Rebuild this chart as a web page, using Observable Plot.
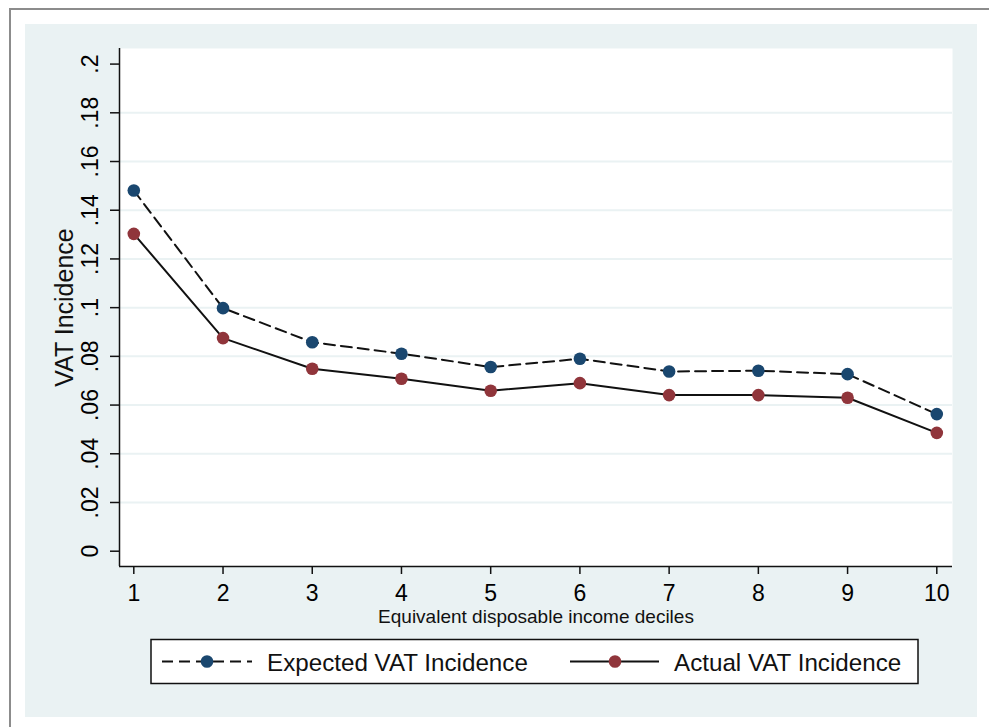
<!DOCTYPE html>
<html>
<head>
<meta charset="utf-8">
<script src="https://cdn.jsdelivr.net/npm/d3@7"></script>
<script src="https://cdn.jsdelivr.net/npm/@observablehq/plot@0.6"></script>
<style>
  html, body { margin: 0; padding: 0; background: #ffffff; }
  #page { position: relative; width: 989px; height: 727px; overflow: hidden; font-family: "Liberation Sans", Arial, sans-serif; }
  #frame { position: absolute; left: 9px; top: 8px; width: 1200px; height: 1000px; border-left: 2px solid #8c8c8c; border-top: 2px solid #8c8c8c; box-sizing: border-box; }
  #region { position: absolute; left: 25px; top: 24px; width: 952px; height: 693px; background: #eaf2f3; }
  #chart { position: absolute; left: 0; top: 0; }
  #legend { position: absolute; left: 0; top: 0; }
  #chart g[aria-label="y-axis tick label"], #chart g[aria-label="x-axis tick label"] { font-size: 23px; }
</style>
</head>
<body>
<div id="page">
  <div id="frame"></div>
  <div id="region"></div>
  <div id="chart"></div>
  <div id="legend"></div>
</div>
<script>
// ---- data ----
const deciles = [1, 2, 3, 4, 5, 6, 7, 8, 9, 10];
const expectedVAT = [0.1481, 0.0998, 0.0858, 0.0811, 0.0756, 0.0790, 0.0738, 0.0741, 0.0727, 0.0563];
const actualVAT   = [0.1303, 0.0875, 0.0749, 0.0708, 0.0659, 0.0690, 0.0641, 0.0641, 0.0630, 0.0486];
const seriesNames = ["Expected VAT Incidence", "Actual VAT Incidence"];
const yTicks = [0, 0.02, 0.04, 0.06, 0.08, 0.10, 0.12, 0.14, 0.16, 0.18, 0.20];
const yTickLabels = ["0", ".02", ".04", ".06", ".08", ".1", ".12", ".14", ".16", ".18", ".2"];
const xTicks = [1, 2, 3, 4, 5, 6, 7, 8, 9, 10];
const xTickLabels = ["1", "2", "3", "4", "5", "6", "7", "8", "9", "10"];
const xTitle = "Equivalent disposable income deciles";
const yTitle = "VAT Incidence";

const blue = "#1a476f";
const red = "#90353b";
const xDomain = [0.8397, 10.176];
const yDomain = [-0.00628, 0.2064];

const expData = deciles.map((d, i) => ({decile: d, value: expectedVAT[i]}));
const actData = deciles.map((d, i) => ({decile: d, value: actualVAT[i]}));
const gridTicks = yTicks.filter(t => t > 0 && t < 0.2);

const chart = Plot.plot({
  width: 989,
  height: 727,
  marginLeft: 119,
  marginTop: 48,
  marginRight: 37,
  marginBottom: 161,
  style: { background: "transparent", fontFamily: "'Liberation Sans', Arial, sans-serif", fontSize: "23px", color: "#000", overflow: "visible" },
  x: { domain: xDomain },
  y: { domain: yDomain },
  marks: [
    Plot.frame({ fill: "white", stroke: "none" }),
    Plot.ruleY(gridTicks, { stroke: "#eaf2f3", strokeWidth: 2 }),
    Plot.ruleX([xDomain[0]], { stroke: "#111", strokeWidth: 1.5 }),
    Plot.ruleY([yDomain[0]], { stroke: "#111", strokeWidth: 1.5 }),
    Plot.axisY({ ticks: yTicks, tickFormat: (d, i) => yTickLabels[i], tickSize: 9, tickPadding: 13, tickRotate: -90, label: null, stroke: "#111", strokeWidth: 1.5, fontSize: 23 }),
    Plot.axisX({ ticks: xTicks, tickFormat: (d, i) => xTickLabels[i], tickSize: 8, tickPadding: 10, label: null, stroke: "#111", strokeWidth: 1.5, fontSize: 23 }),
    Plot.text([xTitle], { frameAnchor: "bottom", dy: 56, lineAnchor: "bottom", fontSize: 19, fill: "#111" }),
    Plot.text([yTitle], { frameAnchor: "left", dx: -55, rotate: -90, textAnchor: "middle", fontSize: 25, fill: "#111" }),
    Plot.line(expData, { x: "decile", y: "value", stroke: "#111", strokeWidth: 2, strokeDasharray: "11,6" }),
    Plot.line(actData, { x: "decile", y: "value", stroke: "#111", strokeWidth: 2 }),
    Plot.dot(expData, { x: "decile", y: "value", r: 6.3, fill: blue, stroke: "none" }),
    Plot.dot(actData, { x: "decile", y: "value", r: 6.3, fill: red, stroke: "none" })
  ]
});
document.getElementById("chart").appendChild(chart);

// ---- legend (below the plot region) ----
const ns = "http://www.w3.org/2000/svg";
const lg = document.createElementNS(ns, "svg");
lg.setAttribute("width", 989);
lg.setAttribute("height", 727);
lg.style.fontFamily = "'Liberation Sans', Arial, sans-serif";
function el(tag, attrs) { const e = document.createElementNS(ns, tag); for (const k in attrs) e.setAttribute(k, attrs[k]); lg.appendChild(e); return e; }
el("rect", { x: 151, y: 639.5, width: 767, height: 44, fill: "white", stroke: "#111", "stroke-width": 1.5 });
const items = [
  { x0: 162, x1: 252, cx: 207, tx: 267, color: blue, dash: "11,6" },
  { x0: 570, x1: 659, cx: 615, tx: 674, color: red, dash: null }
];
items.forEach((it, i) => {
  const ln = el("line", { x1: it.x0, x2: it.x1, y1: 661.5, y2: 661.5, stroke: "#111", "stroke-width": 2 });
  if (it.dash) ln.setAttribute("stroke-dasharray", it.dash);
  el("circle", { cx: it.cx, cy: 661.5, r: 6.3, fill: it.color });
  const t = el("text", { x: it.tx, y: 670.5, "font-size": 24.2, fill: "#111" });
  t.textContent = seriesNames[i];
});
document.getElementById("legend").appendChild(lg);
</script>
</body>
</html>
